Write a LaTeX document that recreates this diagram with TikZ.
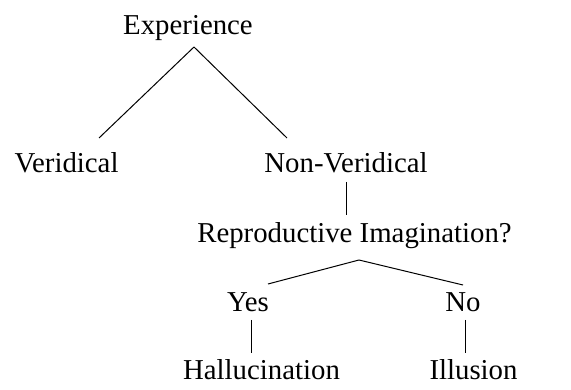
\documentclass[tikz,border=0pt]{standalone}
\usepackage{fontspec}
\setmainfont{Liberation Serif}
\begin{document}
\begin{tikzpicture}[x=1pt,y=1pt,
  lbl/.style={anchor=base,inner sep=0pt,font=\fontsize{28.8}{34}\selectfont},
  conn/.style={line width=1pt,black}]
\useasboundingbox (0,0) rectangle (571,-390);
\node[lbl] (exp)  at (188,-35)   {Experience};
\node[lbl] (ver)  at (66.5,-173) {Veridical};
\node[lbl] (nonv) at (346,-173)  {Non-Veridical};
\node[lbl] (rep)  at (354.5,-243) {Reproductive Imagination?};
\node[lbl] (yes)  at (248,-312)  {Yes};
\node[lbl] (no)   at (463,-312)  {No};
\node[lbl] (hal)  at (261.5,-380) {Hallucination};
\node[lbl] (ill)  at (473.5,-380) {Illusion};
\draw[conn] ([shift={(6,-12)}]exp.base) -- ([shift={(32.5,35)}]ver.base);
\draw[conn] ([shift={(6,-12)}]exp.base) -- ([shift={(-59,35)}]nonv.base);
\draw[conn] ([shift={(0,-9)}]nonv.base) -- ([shift={(-8.5,28)}]rep.base);
\draw[conn] ([shift={(4.5,-17)}]rep.base) -- ([shift={(20,28)}]yes.base);
\draw[conn] ([shift={(4.5,-17)}]rep.base) -- ([shift={(0,27)}]no.base);
\draw[conn] ([shift={(3,-8)}]yes.base) -- ([shift={(-10.5,27)}]hal.base);
\draw[conn] ([shift={(2,-8)}]no.base) -- ([shift={(-8.5,27)}]ill.base);
\end{tikzpicture}
\end{document}
